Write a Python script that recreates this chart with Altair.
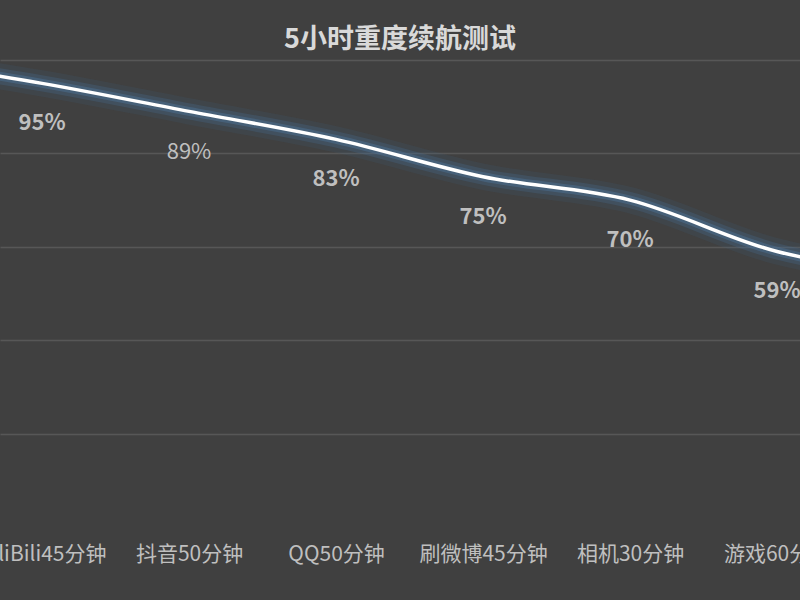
import altair as alt
import pandas as pd

# Data (the first and last points lie outside the visible, cropped frame)
categories = ["", "BiliBili45分钟", "抖音50分钟", "QQ50分钟", "刷微博45分钟", "相机30分钟", "游戏60分钟", ""]
battery = [100, 95, 89, 83, 75, 70, 59, 54]
title_text = "5小时重度续航测试"

df = pd.DataFrame({
    "idx": list(range(len(categories))),
    "cat": categories,
    "val": battery,
})
df["label"] = df["val"].astype(str) + "%"

label_expr = "[" + ",".join("'" + c + "'" for c in categories) + "][datum.value]"

x_enc = alt.X(
    "idx:Q",
    scale=alt.Scale(domain=[0.714, 6.156], nice=False, zero=False),
    axis=alt.Axis(
        values=[1, 2, 3, 4, 5, 6],
        labelExpr=label_expr,
        title=None,
        grid=False,
        domain=False,
        ticks=False,
        labelOverlap=False,
        labelFlush=False,
        labelColor="#bfbfbf",
        labelFontSize=21,
        labelFont="Noto Sans CJK SC",
        labelPadding=16,
        labelBaseline="top",
    ),
)
y_enc = alt.Y(
    "val:Q",
    scale=alt.Scale(domain=[0, 100], nice=False),
    axis=alt.Axis(
        values=[20, 40, 60, 80, 100],
        labels=False,
        ticks=False,
        domain=False,
        title=None,
        grid=True,
        gridColor="#575757",
        gridWidth=1.5,
    ),
)

base = alt.Chart(df)

glow1 = base.mark_line(color="#3f6488", strokeWidth=26, opacity=0.15, interpolate="monotone", clip=True).encode(x=x_enc, y=y_enc)
glow2 = base.mark_line(color="#44698f", strokeWidth=16, opacity=0.3, interpolate="monotone", clip=True).encode(x=x_enc, y=y_enc)
glow3 = base.mark_line(color="#4d7398", strokeWidth=9, opacity=0.45, interpolate="monotone", clip=True).encode(x=x_enc, y=y_enc)
line = base.mark_line(color="#ffffff", strokeWidth=3.5, interpolate="monotone", clip=True).encode(x=x_enc, y=y_enc)

labels_bold = base.transform_filter(
    (alt.datum.idx >= 1) & (alt.datum.idx <= 6) & (alt.datum.idx != 2)
).mark_text(
    dy=40, fontSize=22, fontWeight="bold", color="#bfbfbf", font="Noto Sans CJK SC", baseline="middle"
).encode(x=x_enc, y=y_enc, text="label:N")

labels_normal = base.transform_filter(alt.datum.idx == 2).mark_text(
    dy=41, fontSize=22, fontWeight="normal", color="#bfbfbf", font="Noto Sans CJK SC", baseline="middle"
).encode(x=x_enc, y=y_enc, text="label:N")

chart = alt.layer(glow1, glow2, glow3, line, labels_bold, labels_normal).properties(
    width=800,
    height=467,
    title=alt.TitleParams(
        title_text,
        anchor="middle",
        fontSize=27,
        fontWeight="bold",
        color="#d9d9d9",
        font="Noto Sans CJK SC",
        offset=4,
        baseline="bottom",
        dy=25,
    ),
    background="#404040",
    padding={"left": 0, "right": 0, "top": 60, "bottom": 73},
    autosize=alt.AutoSizeParams(type="none"),
).configure_view(stroke=None)

chart.save("out.html", embed_options={"renderer": "svg", "actions": False})
